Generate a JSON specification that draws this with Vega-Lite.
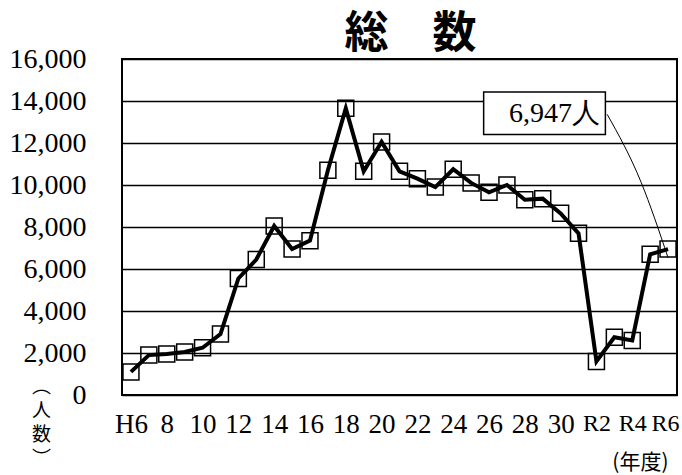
{
  "$schema": "https://vega.github.io/schema/vega-lite/v6.json",
  "width": 555,
  "height": 336,
  "autosize": {"type": "none"},
  "padding": {"left": 122, "top": 59, "right": 5, "bottom": 80},
  "background": "white",
  "title": {"text": "総　数", "font": "Noto Sans CJK JP", "fontSize": 44, "fontWeight": "bold", "color": "black", "anchor": "middle", "dx": 11, "offset": -12},
  "config": {
    "view": {"stroke": "black", "strokeWidth": 2},
    "axis": {"labelColor": "black", "titleColor": "black"}
  },
  "resolve": {"scale": {"x": "independent"}, "axis": {"x": "independent"}},
  "datasets": {
    "d": [
      {"i": 0, "label": "H6", "v": 1100},
      {"i": 1, "label": "H7", "v": 1900},
      {"i": 2, "label": "H8", "v": 1950},
      {"i": 3, "label": "H9", "v": 2050},
      {"i": 4, "label": "H10", "v": 2250},
      {"i": 5, "label": "H11", "v": 2900},
      {"i": 6, "label": "H12", "v": 5550},
      {"i": 7, "label": "H13", "v": 6450},
      {"i": 8, "label": "H14", "v": 8050},
      {"i": 9, "label": "H15", "v": 6950},
      {"i": 10, "label": "H16", "v": 7350},
      {"i": 11, "label": "H17", "v": 10700},
      {"i": 12, "label": "H18", "v": 13650},
      {"i": 13, "label": "H19", "v": 10650},
      {"i": 14, "label": "H20", "v": 12050},
      {"i": 15, "label": "H21", "v": 10650},
      {"i": 16, "label": "H22", "v": 10300},
      {"i": 17, "label": "H23", "v": 9900},
      {"i": 18, "label": "H24", "v": 10750},
      {"i": 19, "label": "H25", "v": 10100},
      {"i": 20, "label": "H26", "v": 9650},
      {"i": 21, "label": "H27", "v": 10000},
      {"i": 22, "label": "H28", "v": 9300},
      {"i": 23, "label": "H29", "v": 9350},
      {"i": 24, "label": "H30", "v": 8650},
      {"i": 25, "label": "R1", "v": 7700},
      {"i": 26, "label": "R2", "v": 1600},
      {"i": 27, "label": "R3", "v": 2750},
      {"i": 28, "label": "R4", "v": 2600},
      {"i": 29, "label": "R5", "v": 6700},
      {"i": 30, "label": "R6", "v": 6947}
    ],
    "box": [{"x1": 19.7, "x2": 26.5, "y1": 12400, "y2": 14430}],
    "leader": [
      {"o": 0, "i": 26.6, "v": 13365},
      {"o": 1, "i": 28.5, "v": 10120},
      {"o": 2, "i": 30.0, "v": 6540}
    ],
    "note": [{"i": 26.2, "v": 13400, "t": "6,947人"}]
  },
  "layer": [
    {
      "data": {"name": "d"},
      "mark": {"type": "line", "color": "black", "strokeWidth": 4},
      "encoding": {
        "x": {
          "field": "label", "type": "ordinal", "sort": null,
          "scale": {"type": "point", "padding": 0.5},
          "axis": {
            "values": ["H6", "H8", "H10", "H12", "H14", "H16", "H18", "H20", "H22", "H24", "H26", "H28", "H30", "R2", "R4", "R6"],
            "labelExpr": "datum.value == 'H6' || slice(datum.value, 0, 1) == 'R' ? datum.value : slice(datum.value, 1)",
            "grid": false, "ticks": false, "domain": false,
            "labelFont": "Liberation Serif",
            "labelFontSize": {"condition": {"test": "slice(datum.value, 0, 1) == 'R'", "value": 24}, "value": 27},
            "labelOffset": {"condition": {"test": "datum.value == 'R6'", "value": -3}, "value": 0},
            "labelPadding": 16,
            "labelAngle": 0, "labelOverlap": false, "labelFlush": false,
            "title": "(年度)", "titleFont": "Noto Sans CJK JP", "titleFontSize": 21, "titleFontWeight": "normal",
            "titleX": 546, "titleY": 77, "titleAlign": "right", "titleBaseline": "bottom"
          }
        },
        "y": {
          "field": "v", "type": "quantitative",
          "scale": {"domain": [0, 16000], "nice": false},
          "axis": {
            "values": [0, 2000, 4000, 6000, 8000, 10000, 12000, 14000, 16000],
            "format": ",d",
            "grid": true, "gridColor": "black", "gridWidth": 1.3, "gridOpacity": 1,
            "ticks": false, "domain": false,
            "labelFont": "Liberation Serif", "labelFontSize": 28, "labelPadding": 36,
            "title": ["︵", "人", "数", "︶"], "titleAngle": 0, "titleX": -81, "titleY": 318,
            "titleAlign": "center", "titleBaseline": "top", "titleFontSize": 19, "titleLineHeight": 24,
            "titleFont": "Noto Sans CJK JP", "titleFontWeight": "normal"
          }
        }
      }
    },
    {
      "data": {"name": "d"},
      "mark": {"type": "point", "shape": "square", "size": 256, "filled": false, "stroke": "black", "strokeWidth": 1.5, "opacity": 1},
      "encoding": {
        "x": {"field": "label", "type": "ordinal", "sort": null, "scale": {"type": "point", "padding": 0.5}, "axis": null},
        "y": {"field": "v", "type": "quantitative"}
      }
    },
    {
      "data": {"name": "leader"},
      "mark": {"type": "line", "color": "black", "strokeWidth": 1, "interpolate": "monotone"},
      "encoding": {
        "x": {"field": "i", "type": "quantitative", "scale": {"domain": [-0.5, 30.5], "nice": false, "zero": false}, "axis": null},
        "y": {"field": "v", "type": "quantitative"},
        "order": {"field": "o"}
      }
    },
    {
      "data": {"name": "box"},
      "mark": {"type": "rect", "fill": "white", "stroke": "black", "strokeWidth": 1.5},
      "encoding": {
        "x": {"field": "x1", "type": "quantitative", "scale": {"domain": [-0.5, 30.5], "nice": false, "zero": false}, "axis": null},
        "x2": {"field": "x2"},
        "y": {"field": "y1", "type": "quantitative"},
        "y2": {"field": "y2"}
      }
    },
    {
      "data": {"name": "note"},
      "mark": {"type": "text", "align": "right", "baseline": "middle", "font": "Liberation Serif", "fontSize": 28, "color": "black"},
      "encoding": {
        "x": {"field": "i", "type": "quantitative", "scale": {"domain": [-0.5, 30.5], "nice": false, "zero": false}, "axis": null},
        "y": {"field": "v", "type": "quantitative"},
        "text": {"field": "t"}
      }
    }
  ]
}
